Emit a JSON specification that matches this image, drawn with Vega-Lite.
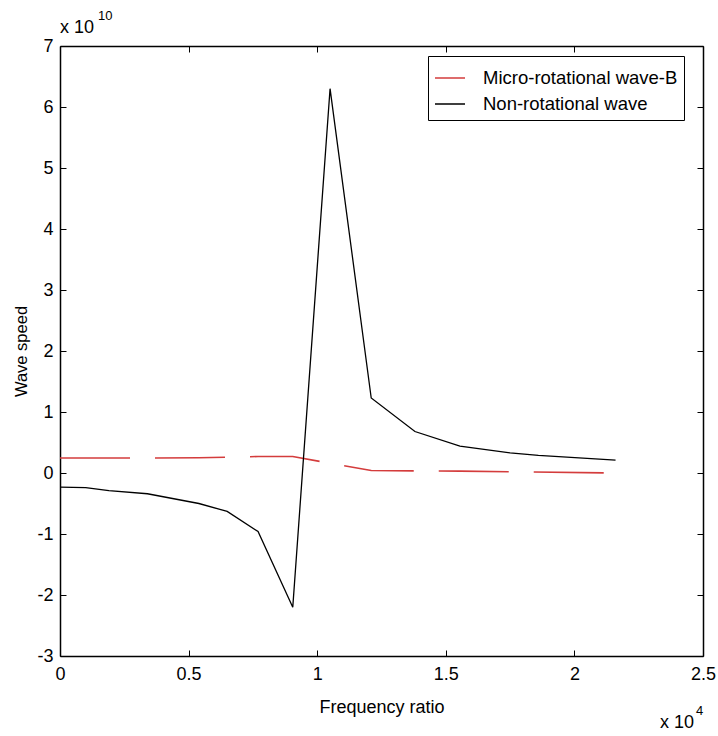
{
  "$schema": "https://vega.github.io/schema/vega-lite/v6.json",
  "width": 643,
  "height": 610,
  "autosize": {"type": "none"},
  "padding": {"left": 60, "top": 46, "right": 15, "bottom": 80},
  "background": "white",
  "config": {
    "view": {"stroke": null},
    "font": "Liberation Sans",
    "axis": {
      "grid": false,
      "domainColor": "black",
      "domainWidth": 1.5,
      "tickColor": "black",
      "tickWidth": 1,
      "tickSize": -6,
      "labelColor": "black",
      "labelFontSize": 18,
      "labelFont": "Liberation Sans",
      "titleColor": "black",
      "titleFontSize": 18,
      "titleFont": "Liberation Sans",
      "titleFontWeight": "normal",
      "labelFlush": false,
      "labelOverlap": false
    }
  },
  "datasets": {
    "curves": [
      {"series": "Micro-rotational wave-B", "x": 0.0, "y": 0.245},
      {"series": "Micro-rotational wave-B", "x": 0.34, "y": 0.245},
      {"series": "Micro-rotational wave-B", "x": 0.54, "y": 0.25},
      {"series": "Micro-rotational wave-B", "x": 0.65, "y": 0.26},
      {"series": "Micro-rotational wave-B", "x": 0.77, "y": 0.27},
      {"series": "Micro-rotational wave-B", "x": 0.905, "y": 0.27},
      {"series": "Micro-rotational wave-B", "x": 1.05, "y": 0.16},
      {"series": "Micro-rotational wave-B", "x": 1.21, "y": 0.04},
      {"series": "Micro-rotational wave-B", "x": 1.38, "y": 0.035},
      {"series": "Micro-rotational wave-B", "x": 1.555, "y": 0.03},
      {"series": "Micro-rotational wave-B", "x": 1.75, "y": 0.02},
      {"series": "Micro-rotational wave-B", "x": 2.16, "y": 0.0},
      {"series": "Non-rotational wave", "x": 0.0, "y": -0.23},
      {"series": "Non-rotational wave", "x": 0.1, "y": -0.24},
      {"series": "Non-rotational wave", "x": 0.19, "y": -0.29},
      {"series": "Non-rotational wave", "x": 0.34, "y": -0.34},
      {"series": "Non-rotational wave", "x": 0.54, "y": -0.5},
      {"series": "Non-rotational wave", "x": 0.65, "y": -0.63},
      {"series": "Non-rotational wave", "x": 0.77, "y": -0.96},
      {"series": "Non-rotational wave", "x": 0.905, "y": -2.2},
      {"series": "Non-rotational wave", "x": 1.05, "y": 6.3},
      {"series": "Non-rotational wave", "x": 1.21, "y": 1.23},
      {"series": "Non-rotational wave", "x": 1.38, "y": 0.68},
      {"series": "Non-rotational wave", "x": 1.555, "y": 0.44},
      {"series": "Non-rotational wave", "x": 1.75, "y": 0.33},
      {"series": "Non-rotational wave", "x": 1.86, "y": 0.29},
      {"series": "Non-rotational wave", "x": 2.16, "y": 0.21}
    ],
    "notes": [
      {"label": "x 10", "sup": "10", "x": 0, "y": 7, "pos": "top"},
      {"label": "x 10", "sup": "4", "x": 2.5, "y": -3, "pos": "bottom"}
    ]
  },
  "layer": [
    {
      "data": {"name": "curves"},
      "transform": [{"filter": "datum.series === 'Micro-rotational wave-B'"}],
      "mark": {"type": "line", "strokeWidth": 1.6, "strokeDash": [70, 25]},
      "encoding": {
        "x": {
          "field": "x", "type": "quantitative",
          "scale": {"domain": [0, 2.5], "nice": false, "zero": false},
          "axis": {"orient": "bottom", "values": [0, 0.5, 1, 1.5, 2, 2.5], "format": "~g", "labelPadding": 15, "title": "Frequency ratio", "titlePadding": 15}
        },
        "y": {
          "field": "y", "type": "quantitative",
          "scale": {"domain": [-3, 7], "nice": false, "zero": false},
          "axis": {"orient": "left", "values": [-3, -2, -1, 0, 1, 2, 3, 4, 5, 6, 7], "labelExpr": "datum.value < 0 ? '-' + abs(datum.value) : '' + datum.value", "labelPadding": 13, "title": "Wave speed", "titleFontSize": 16.5, "titlePadding": 7}
        },
        "color": {
          "field": "series", "type": "nominal",
          "scale": {"domain": ["Micro-rotational wave-B", "Non-rotational wave"], "range": ["#d43c3c", "#000000"]},
          "legend": {
            "title": null,
            "orient": "none",
            "legendX": 368,
            "legendY": 10,
            "direction": "vertical",
            "strokeColor": "black",
            "fillColor": "white",
            "padding": 6,
            "symbolType": "stroke",
            "symbolSize": 900,
            "symbolStrokeWidth": 1.6,
            "labelFontSize": 18.5,
            "labelFont": "Liberation Sans",
            "labelColor": "black",
            "labelOffset": 17,
            "labelLimit": 400,
            "rowPadding": -4,
            "encode": {"symbols": {"update": {"strokeDash": {"value": [1, 0]}}}}
          }
        }
      }
    },
    {
      "data": {"name": "curves"},
      "transform": [{"filter": "datum.series === 'Non-rotational wave'"}],
      "mark": {"type": "line", "strokeWidth": 1.3},
      "encoding": {
        "x": {
          "field": "x", "type": "quantitative",
          "axis": {"orient": "top", "values": [0, 0.5, 1, 1.5, 2, 2.5], "labels": false, "title": null}
        },
        "y": {
          "field": "y", "type": "quantitative",
          "axis": {"orient": "right", "values": [-3, -2, -1, 0, 1, 2, 3, 4, 5, 6, 7], "labels": false, "title": null}
        },
        "color": {"field": "series", "type": "nominal"}
      }
    },
    {
      "data": {"name": "notes"},
      "transform": [{"filter": "datum.pos === 'top'"}],
      "layer": [
        {
          "mark": {"type": "text", "align": "left", "baseline": "alphabetic", "dy": -13, "dx": 0, "fontSize": 18, "font": "Liberation Sans", "color": "black"},
          "encoding": {
            "x": {"field": "x", "type": "quantitative", "axis": null},
            "y": {"field": "y", "type": "quantitative", "axis": null},
            "text": {"field": "label"}
          }
        },
        {
          "mark": {"type": "text", "align": "left", "baseline": "alphabetic", "dy": -26, "dx": 38, "fontSize": 13, "font": "Liberation Sans", "color": "black"},
          "encoding": {
            "x": {"field": "x", "type": "quantitative", "axis": null},
            "y": {"field": "y", "type": "quantitative", "axis": null},
            "text": {"field": "sup"}
          }
        }
      ]
    },
    {
      "data": {"name": "notes"},
      "transform": [{"filter": "datum.pos === 'bottom'"}],
      "layer": [
        {
          "mark": {"type": "text", "align": "right", "baseline": "alphabetic", "dy": 72, "dx": -9, "fontSize": 18, "font": "Liberation Sans", "color": "black"},
          "encoding": {
            "x": {"field": "x", "type": "quantitative", "axis": null},
            "y": {"field": "y", "type": "quantitative", "axis": null},
            "text": {"field": "label"}
          }
        },
        {
          "mark": {"type": "text", "align": "left", "baseline": "alphabetic", "dy": 59, "dx": -7, "fontSize": 13, "font": "Liberation Sans", "color": "black"},
          "encoding": {
            "x": {"field": "x", "type": "quantitative", "axis": null},
            "y": {"field": "y", "type": "quantitative", "axis": null},
            "text": {"field": "sup"}
          }
        }
      ]
    }
  ],
  "resolve": {"axis": {"x": "independent", "y": "independent"}}
}
